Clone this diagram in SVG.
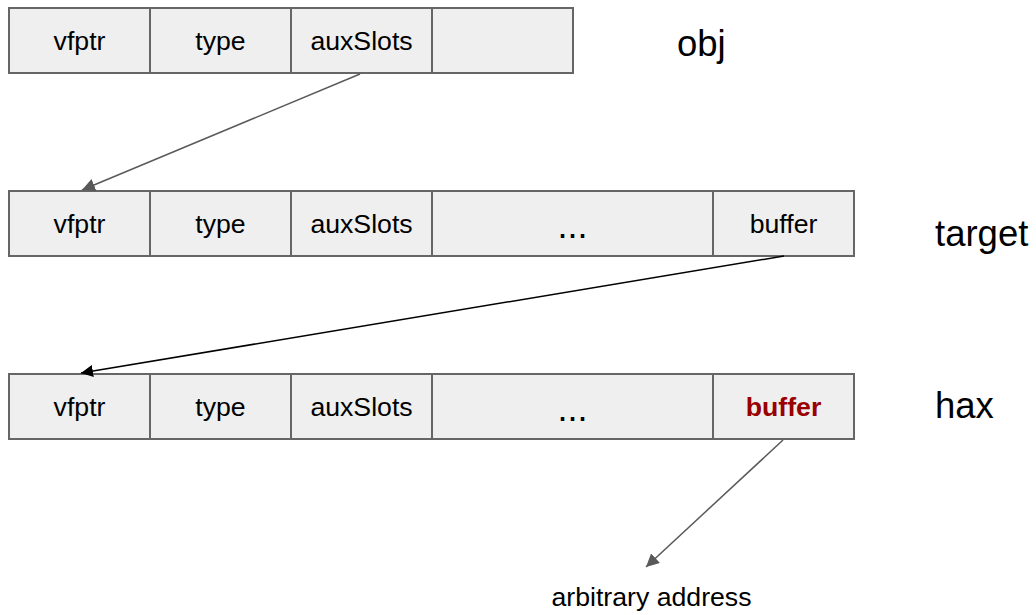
<svg xmlns="http://www.w3.org/2000/svg" width="1036" height="615" viewBox="0 0 1036 615">
<defs>
<style>
.cell{fill:#efefef;stroke:#666666;stroke-width:2}
.t{font-family:"Liberation Sans",Arial,sans-serif;font-size:26.67px;fill:#000;text-anchor:middle}
.dots{font-family:"Liberation Sans",Arial,sans-serif;font-size:36px;fill:#000;text-anchor:middle}
.lbl{font-family:"Liberation Sans",Arial,sans-serif;font-size:36.5px;fill:#000}
.red{fill:#990000;font-weight:bold}
.gray{stroke:#595959;stroke-width:1.5;fill:none}
.blk{stroke:#000;stroke-width:1.5;fill:none}
</style>
<marker id="ag" viewBox="0 0 10 10" refX="10" refY="5" markerWidth="13" markerHeight="13" markerUnits="userSpaceOnUse" orient="auto">
<path d="M0,0 L10,5 L0,10 z" fill="#595959"/>
</marker>
<marker id="ab" viewBox="0 0 10 10" refX="10" refY="5" markerWidth="12" markerHeight="12" markerUnits="userSpaceOnUse" orient="auto">
<path d="M0,0 L10,5 L0,10 z" fill="#000"/>
</marker>
</defs>
<rect width="1036" height="615" fill="#fff"/>
<g id="obj">
<rect class="cell" x="9" y="8" width="141" height="65"/>
<rect class="cell" x="150" y="8" width="141" height="65"/>
<rect class="cell" x="291" y="8" width="141" height="65"/>
<rect class="cell" x="432" y="8" width="141" height="65"/>
<text class="t" x="79.5" y="50">vfptr</text>
<text class="t" x="220.5" y="50">type</text>
<text class="t" x="361.5" y="50">auxSlots</text>
<text class="lbl" x="677" y="56">obj</text>
</g>
<g id="target">
<rect class="cell" x="9" y="191" width="141" height="65"/>
<rect class="cell" x="150" y="191" width="141" height="65"/>
<rect class="cell" x="291" y="191" width="141" height="65"/>
<rect class="cell" x="432" y="191" width="281" height="65"/>
<rect class="cell" x="713" y="191" width="141" height="65"/>
<text class="t" x="79.5" y="233">vfptr</text>
<text class="t" x="220.5" y="233">type</text>
<text class="t" x="361.5" y="233">auxSlots</text>
<text class="dots" x="572.5" y="238">...</text>
<text class="t" x="783.5" y="233">buffer</text>
<text class="lbl" x="935" y="246">target</text>
</g>
<g id="hax">
<rect class="cell" x="9" y="374" width="141" height="65"/>
<rect class="cell" x="150" y="374" width="141" height="65"/>
<rect class="cell" x="291" y="374" width="141" height="65"/>
<rect class="cell" x="432" y="374" width="281" height="65"/>
<rect class="cell" x="713" y="374" width="141" height="65"/>
<text class="t" x="79.5" y="416">vfptr</text>
<text class="t" x="220.5" y="416">type</text>
<text class="t" x="361.5" y="416">auxSlots</text>
<text class="dots" x="572.5" y="421">...</text>
<text class="t red" x="783.5" y="416">buffer</text>
<text class="lbl" x="935" y="418">hax</text>
</g>
<g id="arbitrary">
<text class="t" x="651.5" y="606">arbitrary address</text>
</g>
<g id="connectors">
<line class="gray" x1="360" y1="74" x2="82" y2="190" marker-end="url(#ag)"/>
<line class="blk" x1="784" y1="256" x2="81" y2="373" marker-end="url(#ab)"/>
<line class="gray" x1="783" y1="440" x2="646" y2="567" marker-end="url(#ag)"/>
</g>
</svg>
